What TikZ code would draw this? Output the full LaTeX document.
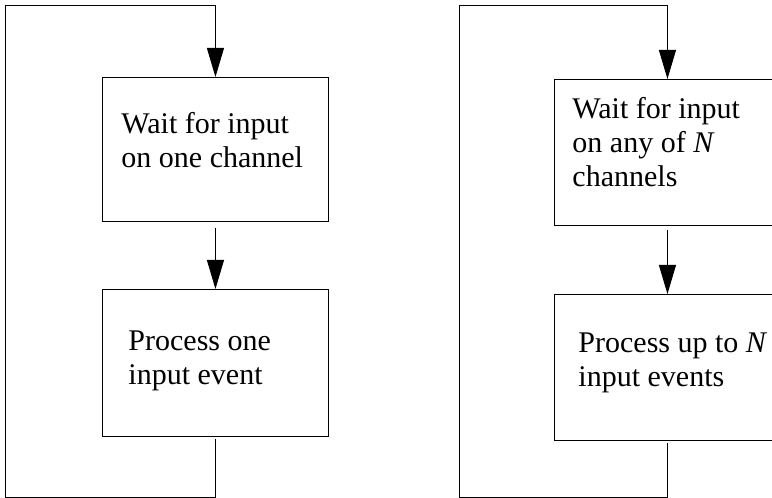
\documentclass[tikz,border=0pt]{standalone}
\usepackage{fontspec}
\setmainfont{Liberation Serif}
\usetikzlibrary{arrows.meta}
\begin{document}
\begin{tikzpicture}[x=1bp,y=-1bp,
  line width=0.9bp,
  box/.style={draw, inner sep=0pt, anchor=north west, minimum width=226bp},
  txt/.style={inner sep=0pt, anchor=base west, align=left, font=\fontsize{30bp}{34bp}\selectfont},
  arr/.style={-{Triangle[width=17bp,length=29bp]}},
]
\useasboundingbox (0,0) rectangle (772,498);
\clip (0,0) rectangle (772,498);
% left diagram
\node[box, minimum height=144bp] (b1) at (102,77) {};
\node[box, minimum height=147bp] (b2) at (102,289) {};
\node[txt] (t1) at (121,168) {Wait for input\\on one channel};
\node[txt] (t2) at (128,384) {Process one\\input event};
\coordinate (lb) at (5,497);
\coordinate (lt) at (5,5);
\draw[arr] (b1.south) ++(0,6) -- (b2.north);
\draw[arr, shorten <=2bp] (b2.south) |- (lb) -- (lt) -| (b1.north);
% right diagram
\node[box, minimum height=146bp] (b3) at (554,79) {};
\node[box, minimum height=146bp] (b4) at (554,294) {};
\node[txt] (t3) at (572,187) {Wait for input\\on any of \textit{N}\\channels};
\node[txt] (t4) at (578,386) {Process up to \textit{N}\\input events};
\coordinate (rb) at (459,497);
\coordinate (rt) at (459,5);
\draw[arr] (b3.south) ++(0,4) -- (b4.north);
\draw[arr, shorten <=2bp] (b4.south) |- (rb) -- (rt) -| (b3.north);
\end{tikzpicture}
\end{document}
